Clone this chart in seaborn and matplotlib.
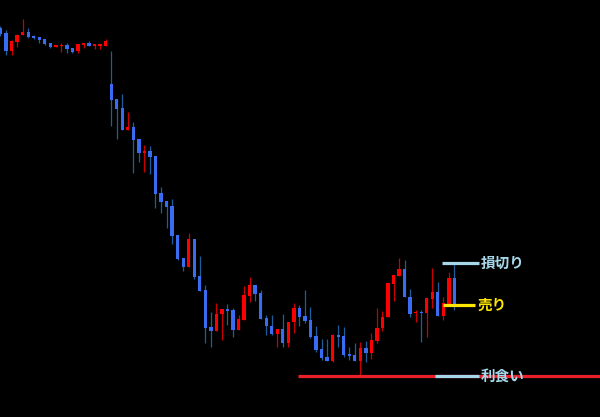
import matplotlib
matplotlib.use("Agg")
import matplotlib.pyplot as plt
import seaborn as sns
import numpy as np

# OHLC data (arbitrary price units)
opens = [389, 384, 366, 375, 382, 385, 381, 380, 378, 374, 370, 371, 372, 369, 366, 372, 374, 371, 371, 371,
         333, 318, 309, 287, 290, 278, 264, 266, 261, 224, 216, 211, 182, 159, 150, 178, 141, 127, 90, 86,
         103, 108, 107, 87, 97, 121, 132, 124, 99, 91, 83, 88, 74, 95, 109, 101, 97, 81, 68, 60,
         56, 82, 81, 63, 62, 56, 69, 64, 76, 89, 100, 133, 141, 148, 120, 104, 105, 104, 118, 125,
         101, 113, 139]
highs = [391, 387, 377, 383, 398, 389, 382, 380, 378, 374, 372, 374, 374, 369, 373, 374, 376, 373, 373, 378,
         366, 318, 323, 305, 295, 278, 272, 271, 261, 230, 216, 218, 182, 159, 184, 178, 161, 132, 105, 114,
         108, 113, 109, 102, 131, 140, 132, 127, 102, 102, 88, 103, 95, 114, 112, 127, 110, 91, 78, 78,
         83, 92, 90, 70, 74, 75, 76, 84, 109, 106, 134, 142, 159, 157, 128, 107, 107, 119, 149, 135,
         120, 145, 154]
lows = [381, 362, 362, 370, 382, 379, 378, 374, 372, 369, 370, 365, 364, 364, 364, 369, 371, 368, 368, 371,
        291, 278, 287, 287, 244, 255, 245, 243, 209, 204, 189, 173, 157, 146, 150, 138, 126, 74, 70, 86,
        77, 92, 80, 87, 97, 115, 116, 98, 82, 82, 70, 70, 70, 84, 91, 94, 79, 65, 57, 56,
        55, 70, 60, 57, 56, 42, 55, 58, 74, 86, 100, 116, 141, 120, 100, 95, 75, 80, 109, 101,
        97, 113, 107]
closes = [383, 366, 376, 382, 385, 380, 379, 377, 373, 370, 372, 372, 368, 365, 373, 374, 371, 373, 373, 376,
          317, 308, 287, 290, 277, 264, 266, 260, 223, 215, 210, 181, 158, 150, 178, 140, 126, 89, 86, 103,
          108, 106, 87, 98, 122, 132, 123, 98, 91, 83, 88, 74, 95, 109, 100, 96, 80, 67, 59, 56,
          82, 80, 62, 61, 56, 69, 64, 77, 89, 100, 134, 142, 148, 120, 103, 105, 104, 119, 125, 101,
          114, 139, 112]

level_names = ["損切り", "売り", "利食い"]
level_values = [154, 112, 41]

sns.set_theme(style="dark", rc={"axes.facecolor": "black", "figure.facecolor": "black"})
plt.rcParams['font.family'] = ['Noto Sans CJK JP', 'DejaVu Sans']

fig = plt.figure(figsize=(6, 4.17), dpi=100)
ax = fig.add_axes([0, 0, 1, 1])
ax.set_facecolor("black")

o = np.array(opens, float)
h = np.array(highs, float)
l = np.array(lows, float)
c = np.array(closes, float)
x = np.arange(len(o))
up = c >= o

body_up, body_dn = "#ff0000", "#3a6cf2"
wick_up, wick_dn = "#c80000", "#1f5c9c"

ax.vlines(x[up], l[up], h[up], color=wick_up, lw=0.9, zorder=2)
ax.vlines(x[~up], l[~up], h[~up], color=wick_dn, lw=0.9, zorder=2)

bottom = np.minimum(o, c)
height = np.maximum(np.abs(c - o), 1.2)
ax.bar(x[up], height[up], bottom=bottom[up], width=0.6, color=body_up, linewidth=0, zorder=3)
ax.bar(x[~up], height[~up], bottom=bottom[~up], width=0.6, color=body_dn, linewidth=0, zorder=3)

lightblue = "#a6d8ea"
yellow = "#ffe600"
# take-profit red line
ax.hlines(level_values[2], 53.75, 110, color="#e8202a", lw=2.3, zorder=4)
# level markers
ax.hlines(level_values[0], 79.7, 86.5, color=lightblue, lw=2.3, zorder=5)
ax.hlines(level_values[1], 80.0, 85.7, color=yellow, lw=2.3, zorder=5)
ax.hlines(level_values[2], 78.5, 86.5, color=lightblue, lw=2.3, zorder=5)

text_colors = [lightblue, yellow, lightblue]
text_x = [86.8, 86.1, 86.8]
for name, val, col, tx in zip(level_names, level_values, text_colors, text_x):
    ax.text(tx, val, name, color=col, fontsize=10.5, fontweight="bold",
            va="center", ha="left", zorder=6)

ax.set_xlim(-0.09, 108.3)
ax.set_ylim(0, 417)
ax.axis("off")

fig.savefig("out.png", dpi=100, facecolor="black")
